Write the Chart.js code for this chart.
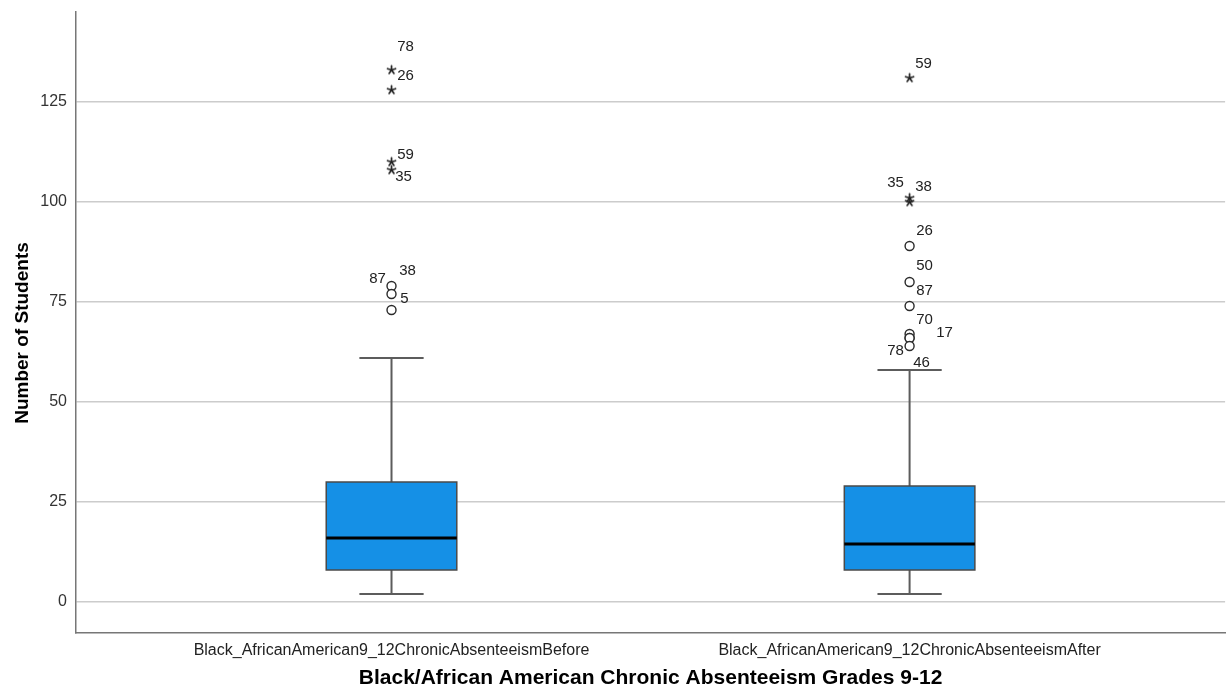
<!DOCTYPE html>
<html>
<head>
<meta charset="utf-8">
<script src="https://cdn.jsdelivr.net/npm/chart.js@4.4.0/dist/chart.umd.min.js"></script>
<style>
  html, body { margin: 0; padding: 0; background: #fff; }
</style>
</head>
<body>
<canvas id="chart" width="1231" height="694"></canvas>
<script>
/* ---- data ---- */
const categories = [
    'Black_AfricanAmerican9_12ChronicAbsenteeismBefore',
    'Black_AfricanAmerican9_12ChronicAbsenteeismAfter'
];
const whiskerLow  = [2, 2];
const q1          = [8, 8];
const median      = [16, 14.5];
const q3          = [30, 29];
const whiskerHigh = [61, 58];

// extreme values (*) and outliers (o), with their case numbers
const extremesBefore    = [133, 128, 110, 108];
const extremesBeforeIds = ['78', '26', '59', '35'];
const outliersBefore    = [79, 77, 73];
const outliersBeforeIds = ['38', '87', '5'];
const extremesAfter     = [131, 101, 100];
const extremesAfterIds  = ['59', '35', '38'];
const outliersAfter     = [89, 80, 74, 67, 66, 66, 64];
const outliersAfterIds  = ['26', '50', '87', '70', '17', '78', '46'];

const yTicks = [0, 25, 50, 75, 100, 125];
const yTitle = 'Number of Students';
const xTitle = 'Black/African American Chronic Absenteeism Grades 9-12';

/* ---- style ---- */
const FONT = 'Arial, "Liberation Sans", sans-serif';
const BOX_HALF = 0.126;   // in x-scale units
const CAP_HALF = 0.062;

// label offsets in px from each point, per dataset
const labelOffsets = [
    [[14, -23], [14, -14], [14, -7], [12, 7]],
    [[16, -15], [-14, -15], [13, -11]],
    [[14, -14], [-14, -15], [14, -15]],
    [[15, -15], [15, -16], [15, -15], [15, -14], [35, -5], [-14, 13], [12, 17]]
];

// small five-spoke asterisk used by SPSS for extreme values
function asterisk(r, color) {
    const c = document.createElement('canvas');
    const s = Math.ceil(r * 2 + 4);
    c.width = s; c.height = s;
    const g = c.getContext('2d');
    g.strokeStyle = color;
    g.lineWidth = 1.7;
    g.lineCap = 'round';
    g.beginPath();
    for (let k = 0; k < 5; k++) {
        const a = -Math.PI / 2 + k * 2 * Math.PI / 5;
        g.moveTo(s / 2, s / 2);
        g.lineTo(s / 2 + r * Math.cos(a), s / 2 + r * Math.sin(a));
    }
    g.stroke();
    return c;
}
const starImg = asterisk(4.2, '#222');

const boxPlot = {
    id: 'boxPlot',
    beforeDatasetsDraw(chart) {
        const { ctx, scales: { x, y } } = chart;
        categories.forEach((c, i) => {
            const cx = x.getPixelForValue(i);
            const half = x.getPixelForValue(i + BOX_HALF) - cx;
            const cap = x.getPixelForValue(i + CAP_HALF) - cx;
            const yLo = y.getPixelForValue(whiskerLow[i]);
            const yQ1 = y.getPixelForValue(q1[i]);
            const yMed = y.getPixelForValue(median[i]);
            const yQ3 = y.getPixelForValue(q3[i]);
            const yHi = y.getPixelForValue(whiskerHigh[i]);
            ctx.save();
            // whiskers
            ctx.strokeStyle = '#5c5c5c';
            ctx.lineWidth = 2;
            ctx.beginPath();
            ctx.moveTo(cx, yQ3); ctx.lineTo(cx, yHi);
            ctx.moveTo(cx - cap, yHi); ctx.lineTo(cx + cap, yHi);
            ctx.moveTo(cx, yQ1); ctx.lineTo(cx, yLo);
            ctx.moveTo(cx - cap, yLo); ctx.lineTo(cx + cap, yLo);
            ctx.stroke();
            // box
            ctx.fillStyle = '#1590e6';
            ctx.fillRect(cx - half, yQ3, 2 * half, yQ1 - yQ3);
            ctx.strokeStyle = '#4a4a4a';
            ctx.lineWidth = 1.5;
            ctx.strokeRect(cx - half, yQ3, 2 * half, yQ1 - yQ3);
            // median
            ctx.strokeStyle = '#000';
            ctx.lineWidth = 3;
            ctx.beginPath();
            ctx.moveTo(cx - half, yMed); ctx.lineTo(cx + half, yMed);
            ctx.stroke();
            ctx.restore();
        });
    }
};

const caseLabels = {
    id: 'caseLabels',
    afterDatasetsDraw(chart, args, opts) {
        const { ctx } = chart;
        ctx.save();
        ctx.font = '15px ' + FONT;
        ctx.fillStyle = '#222';
        ctx.textAlign = 'center';
        ctx.textBaseline = 'middle';
        chart.data.datasets.forEach((ds, di) => {
            const meta = chart.getDatasetMeta(di);
            meta.data.forEach((pt, pi) => {
                const off = opts.offsets[di][pi];
                ctx.fillText(ds.caseIds[pi], pt.x + off[0], pt.y + off[1]);
            });
        });
        ctx.restore();
    }
};

// y title sits a little below the middle of the axis in the original
const yAxisTitle = {
    id: 'yAxisTitle',
    afterDraw(chart) {
        const { ctx } = chart;
        ctx.save();
        ctx.translate(23, 333);
        ctx.rotate(-Math.PI / 2);
        ctx.font = 'bold 19px ' + FONT;
        ctx.fillStyle = '#000';
        ctx.textAlign = 'center';
        ctx.textBaseline = 'middle';
        ctx.fillText(yTitle, 0, 0);
        ctx.restore();
    }
};

function pointSet(xVal, values, ids, isStar) {
    return {
        data: values.map(v => ({ x: xVal, y: v })),
        caseIds: ids,
        pointStyle: isStar ? starImg : 'circle',
        pointRadius: 4.5,
        pointBorderColor: '#2a2a2a',
        pointBackgroundColor: '#fff',
        pointBorderWidth: 1.4,
        showLine: false
    };
}

new Chart(document.getElementById('chart'), {
    type: 'scatter',
    data: {
        datasets: [
            pointSet(0, extremesBefore, extremesBeforeIds, true),
            pointSet(0, outliersBefore, outliersBeforeIds, false),
            pointSet(1, extremesAfter, extremesAfterIds, true),
            pointSet(1, outliersAfter, outliersAfterIds, false)
        ]
    },
    options: {
        responsive: false,
        animation: false,
        layout: { padding: { top: 12, right: 0, left: 0, bottom: 0 } },
        plugins: {
            legend: { display: false },
            tooltip: { enabled: false },
            caseLabels: { offsets: labelOffsets }
        },
        scales: {
            x: {
                type: 'linear',
                min: -0.609,
                max: 1.609,
                afterBuildTicks: s => { s.ticks = [{ value: 0 }, { value: 1 }]; },
                afterFit: s => { s.height = 61; s.paddingLeft = 0; s.paddingRight = 0; },
                ticks: {
                    callback: v => categories[v],
                    font: { family: FONT, size: 16 },
                    color: '#222',
                    padding: 8,
                    maxRotation: 0,
                    autoSkip: false
                },
                grid: { display: false, drawTicks: false },
                border: { color: '#777', width: 1.5 },
                title: {
                    display: true,
                    text: xTitle,
                    font: { family: FONT, size: 21, weight: 'bold' },
                    color: '#000',
                    padding: { top: 0, bottom: 3 }
                }
            },
            y: {
                min: -7.75,
                max: 147.5,
                afterBuildTicks: s => { s.ticks = yTicks.map(v => ({ value: v })); },
                afterFit: s => { s.width = 76; s.paddingTop = 0; s.paddingBottom = 0; },
                ticks: {
                    font: { family: FONT, size: 16 },
                    color: '#333',
                    padding: 9
                },
                grid: { color: '#cccccc', lineWidth: 1.5, drawTicks: false },
                border: { color: '#777', width: 1.5 }
            }
        }
    },
    plugins: [boxPlot, caseLabels, yAxisTitle]
});
</script>
</body>
</html>
